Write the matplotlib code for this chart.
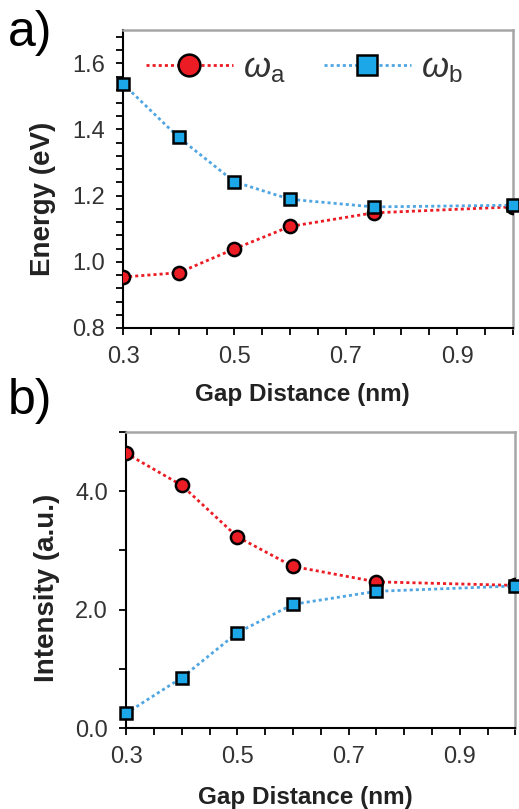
import matplotlib
matplotlib.use("Agg")
import matplotlib.pyplot as plt
from matplotlib.ticker import MultipleLocator, FixedLocator, FormatStrFormatter

plt.rcParams['font.family'] = ['Liberation Sans', 'DejaVu Sans']
plt.rcParams['mathtext.fontset'] = 'custom'
plt.rcParams['mathtext.rm'] = 'Liberation Sans'
plt.rcParams['mathtext.it'] = 'Liberation Sans:italic'

# data
gap = [0.3, 0.4, 0.5, 0.6, 0.75, 1.0]
energy_a = [0.954, 0.967, 1.039, 1.107, 1.148, 1.166]
energy_b = [1.538, 1.376, 1.242, 1.189, 1.166, 1.171]
intensity_a = [4.64, 4.10, 3.23, 2.73, 2.47, 2.41]
intensity_b = [0.25, 0.85, 1.61, 2.09, 2.31, 2.40]

red = '#ec1c24'
blue = '#1ba7e8'
blue_line = '#4fa6e2'
tick_col = '#333333'

fig = plt.figure(figsize=(5.19, 8.09), dpi=100)
ax1 = fig.add_axes([0.237, 0.5946, 0.751, 0.368])
ax2 = fig.add_axes([0.243, 0.100, 0.750, 0.366])


def style(ax):
    for s in ['top', 'right']:
        ax.spines[s].set_color('#a6a6a6')
        ax.spines[s].set_linewidth(1.8)
    for s in ['left', 'bottom']:
        ax.spines[s].set_color('black')
        ax.spines[s].set_linewidth(1.5)
    ax.set_xlim(0.3, 1.0)
    ax.xaxis.set_major_locator(FixedLocator([0.3, 0.5, 0.7, 0.9]))
    ax.xaxis.set_minor_locator(MultipleLocator(0.05))
    ax.xaxis.set_major_formatter(FormatStrFormatter('%.1f'))
    ax.tick_params(which='both', direction='out', length=5, width=1.3,
                   color='black', top=False, right=False)
    ax.tick_params(which='major', labelsize=17, labelcolor=tick_col, pad=8)


def draw(ax, ya, yb, label=True):
    ax.plot(gap, ya, color=red, lw=2, dashes=(1.1, 1.1), marker='o', ms=9.5,
            mfc=red, mec='black', mew=1.8, label=r'$\omega_\mathrm{a}$' if label else None,
            zorder=3)
    ax.plot(gap, yb, color=blue_line, lw=2, dashes=(1.1, 1.1), marker='s', ms=9,
            mfc=blue, mec='black', mew=1.8, label=r'$\omega_\mathrm{b}$' if label else None,
            zorder=4, clip_on=False)


draw(ax1, energy_a, energy_b)
style(ax1)
ax1.set_ylim(0.8, 1.7)
ax1.yaxis.set_major_locator(FixedLocator([0.8, 1.0, 1.2, 1.4, 1.6]))
ax1.yaxis.set_minor_locator(MultipleLocator(0.04))
ax1.yaxis.set_major_formatter(FormatStrFormatter('%.1f'))
ax1.set_ylabel('Energy (eV)', fontsize=20, fontweight='bold', color='#222222', va='center')
ax1.yaxis.set_label_coords(-0.205, 0.433)
ax1.set_xlabel('Gap Distance (nm)', fontsize=17.5, fontweight='bold', color='#222222', va='center')
ax1.xaxis.set_label_coords(0.459, -0.225)
leg = ax1.legend(loc='upper center', bbox_to_anchor=(0.465, 1.035), ncol=2, frameon=False,
                 fontsize=25, handlelength=2.5, columnspacing=1.1, handletextpad=0.3,
                 markerscale=1.65)
for t in leg.get_texts():
    t.set_color(tick_col)

draw(ax2, intensity_a, intensity_b, label=False)
style(ax2)
ax2.set_ylim(0.0, 5.0)
ax2.yaxis.set_major_locator(FixedLocator([0.0, 2.0, 4.0]))
ax2.yaxis.set_minor_locator(MultipleLocator(1.0))
ax2.yaxis.set_major_formatter(FormatStrFormatter('%.1f'))
ax2.set_ylabel('Intensity (a.u.)', fontsize=20, fontweight='bold', color='#222222', va='center')
ax2.yaxis.set_label_coords(-0.203, 0.473)
ax2.set_xlabel('Gap Distance (nm)', fontsize=17.5, fontweight='bold', color='#222222', va='center')
ax2.xaxis.set_label_coords(0.46, -0.233)

fig.text(0.015, 0.988, 'a)', fontsize=36, va='top', ha='left')
fig.text(0.015, 0.533, 'b)', fontsize=36, va='top', ha='left')

fig.savefig('out.png', dpi=100)
